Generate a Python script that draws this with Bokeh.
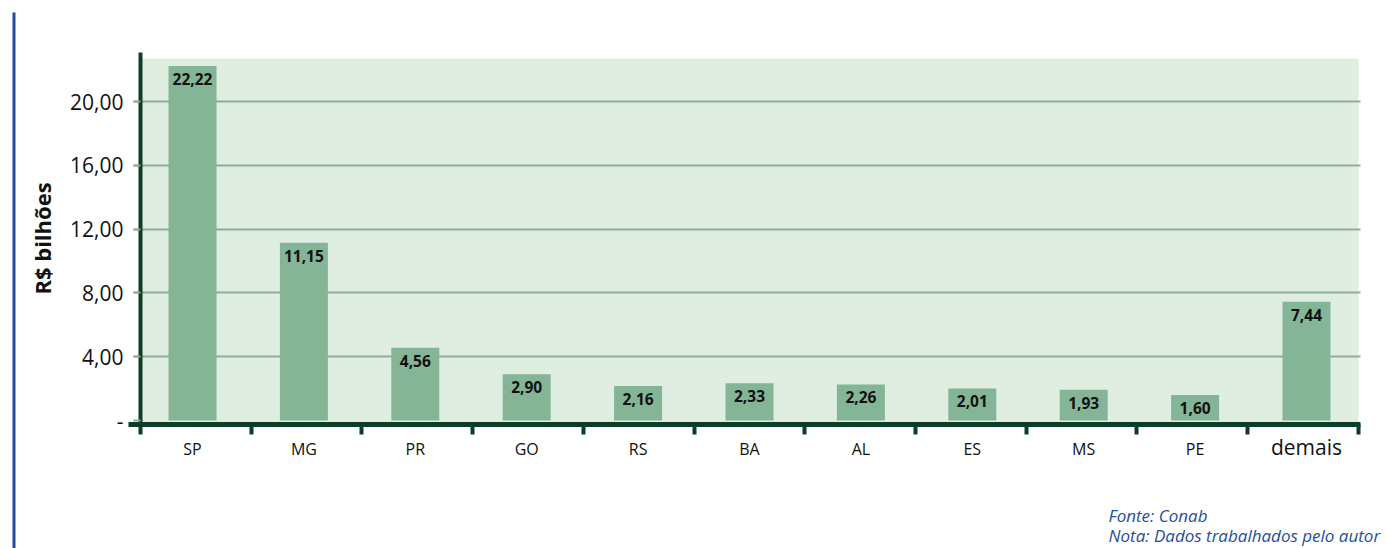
from bokeh.plotting import figure
from bokeh.models import Range1d, FixedTicker, LabelSet, ColumnDataSource, Label, BoxAnnotation
from bokeh.core.properties import value
from bokeh.embed import file_html
from bokeh.resources import INLINE

categories = ["SP", "MG", "PR", "GO", "RS", "BA", "AL", "ES", "MS", "PE", "demais"]
values = [22.22, 11.15, 4.56, 2.90, 2.16, 2.33, 2.26, 2.01, 1.93, 1.60, 7.44]
value_labels = ["22,22", "11,15", "4,56", "2,90", "2,16", "2,33", "2,26", "2,01", "1,93", "1,60", "7,44"]
y_ticks = [0, 4, 8, 12, 16, 20]
y_tick_labels = ["-", "4,00", "8,00", "12,00", "16,00", "20,00"]
y_title = "R$ bilhões"
notes = ["Fonte:  Conab", "Nota: Dados trabalhados pelo autor"]

FONT = "Open Sans"
BAR = "#84b597"
BG = "#e0ede1"
GRID = "#8eae9b"
AXIS = "#0c3d27"
BLUE = "#1f4e9c"
TXT = "#111111"

W, H = 1389, 548
# pixel geometry of the frame (whole canvas)
PX_X = 111.4           # px between bar centres
XC0_PX = 192           # centre of first bar
PX_Y = 15.95           # px per R$ bilhão
Y0_PX = 420            # baseline (value 0)
AX_LEFT_PX = 140       # vertical axis / first category boundary
TICK_STEP_PX = 110.7   # spacing of the category separator ticks


def xd(px):
    return (px - XC0_PX) / PX_X


def yd(py):
    return (Y0_PX - py) / PX_Y


p = figure(width=W, height=H, output_backend="svg", toolbar_location=None,
           x_range=Range1d(xd(0), xd(W)), y_range=Range1d(yd(H), yd(0)),
           min_border=0, min_border_left=0, min_border_right=0,
           min_border_top=0, min_border_bottom=0)
p.outline_line_color = None
p.background_fill_color = "white"
p.border_fill_color = "white"

n = len(categories)
xs = list(range(n))
src = ColumnDataSource(dict(x=xs, top=values, lbl=value_labels))

AX_Y = yd(423.5)   # x-axis position (just below the baseline)
separators = [xd(AX_LEFT_PX + TICK_STEP_PX * k) for k in range(n + 1)]

# background panel
p.quad(left=[xd(AX_LEFT_PX)], right=[xd(1358)], bottom=[AX_Y], top=[yd(58)], fill_color=BG,
       line_color=None, level="image")

p.vbar(x="x", top="top", bottom=0, width=0.431, source=src, fill_color=BAR, line_color=None)

p.add_layout(LabelSet(x="x", y="top", text="lbl", source=src, y_offset=-7,
                      text_align="center", text_baseline="top",
                      text_font=value(FONT), text_font_size="15.5px",
                      text_font_style="bold", text_color=TXT))

# grid
p.xgrid.visible = False
p.ygrid.ticker = FixedTicker(ticks=y_ticks[1:])
p.ygrid.grid_line_color = GRID
p.ygrid.grid_line_width = 2
p.ygrid.cross_bounds = (xd(133), xd(1360))

# y axis
ya = p.yaxis[0]
ya.fixed_location = xd(AX_LEFT_PX)
ya.bounds = (AX_Y, yd(52))
ya.ticker = FixedTicker(ticks=y_ticks)
ya.major_label_overrides = {t: l for t, l in zip(y_ticks, y_tick_labels)}
ya.axis_line_color = AXIS
ya.axis_line_width = 4
ya.major_tick_line_color = GRID
ya.major_tick_line_width = 2
ya.major_tick_out = 7
ya.major_tick_in = 0
ya.minor_tick_line_color = None
ya.major_label_standoff = 10
ya.major_label_text_font = FONT
ya.major_label_text_font_size = "21px"
ya.major_label_text_color = TXT
ya.axis_label = y_title
ya.axis_label_text_font = FONT
ya.axis_label_text_font_size = "22px"
ya.axis_label_text_font_style = "bold"
ya.axis_label_text_color = TXT
ya.axis_label_standoff = 10

# x axis
xa = p.xaxis[0]
xa.fixed_location = AX_Y
xa.bounds = (xd(128), xd(1360))
xa.ticker = FixedTicker(ticks=xs, minor_ticks=separators)
xa.major_label_overrides = {i: (c if c != "demais" else "") for i, c in zip(xs, categories)}
xa.axis_line_color = AXIS
xa.axis_line_width = 5
xa.major_tick_line_color = None
xa.major_tick_out = 0
xa.major_tick_in = 0
xa.minor_tick_line_color = AXIS
xa.minor_tick_line_width = 4
xa.minor_tick_out = 10
xa.minor_tick_in = 0
xa.major_label_standoff = 4
xa.major_label_text_font = FONT
xa.major_label_text_font_size = "16px"
xa.major_label_text_color = TXT

p.add_layout(Label(x=xs[-1], y=yd(446), text=categories[-1],
                   text_align="center", text_baseline="middle",
                   text_font=FONT, text_font_size="21px", text_color=TXT))

# footnotes
p.add_layout(Label(x=xd(1108), y=yd(515), text=notes[0],
                   text_baseline="middle", text_font=FONT, text_font_size="17px",
                   text_font_style="italic", text_color=BLUE))
p.add_layout(Label(x=xd(1108), y=yd(535), text=notes[1],
                   text_baseline="middle", text_font=FONT, text_font_size="17px",
                   text_font_style="italic", text_color=BLUE))

# left blue rule
p.add_layout(BoxAnnotation(left=xd(12), right=xd(15), bottom=yd(H), top=yd(12),
                           fill_color=BLUE, fill_alpha=1, line_color=None))

open("out.html", "w").write(file_html(p, INLINE))
